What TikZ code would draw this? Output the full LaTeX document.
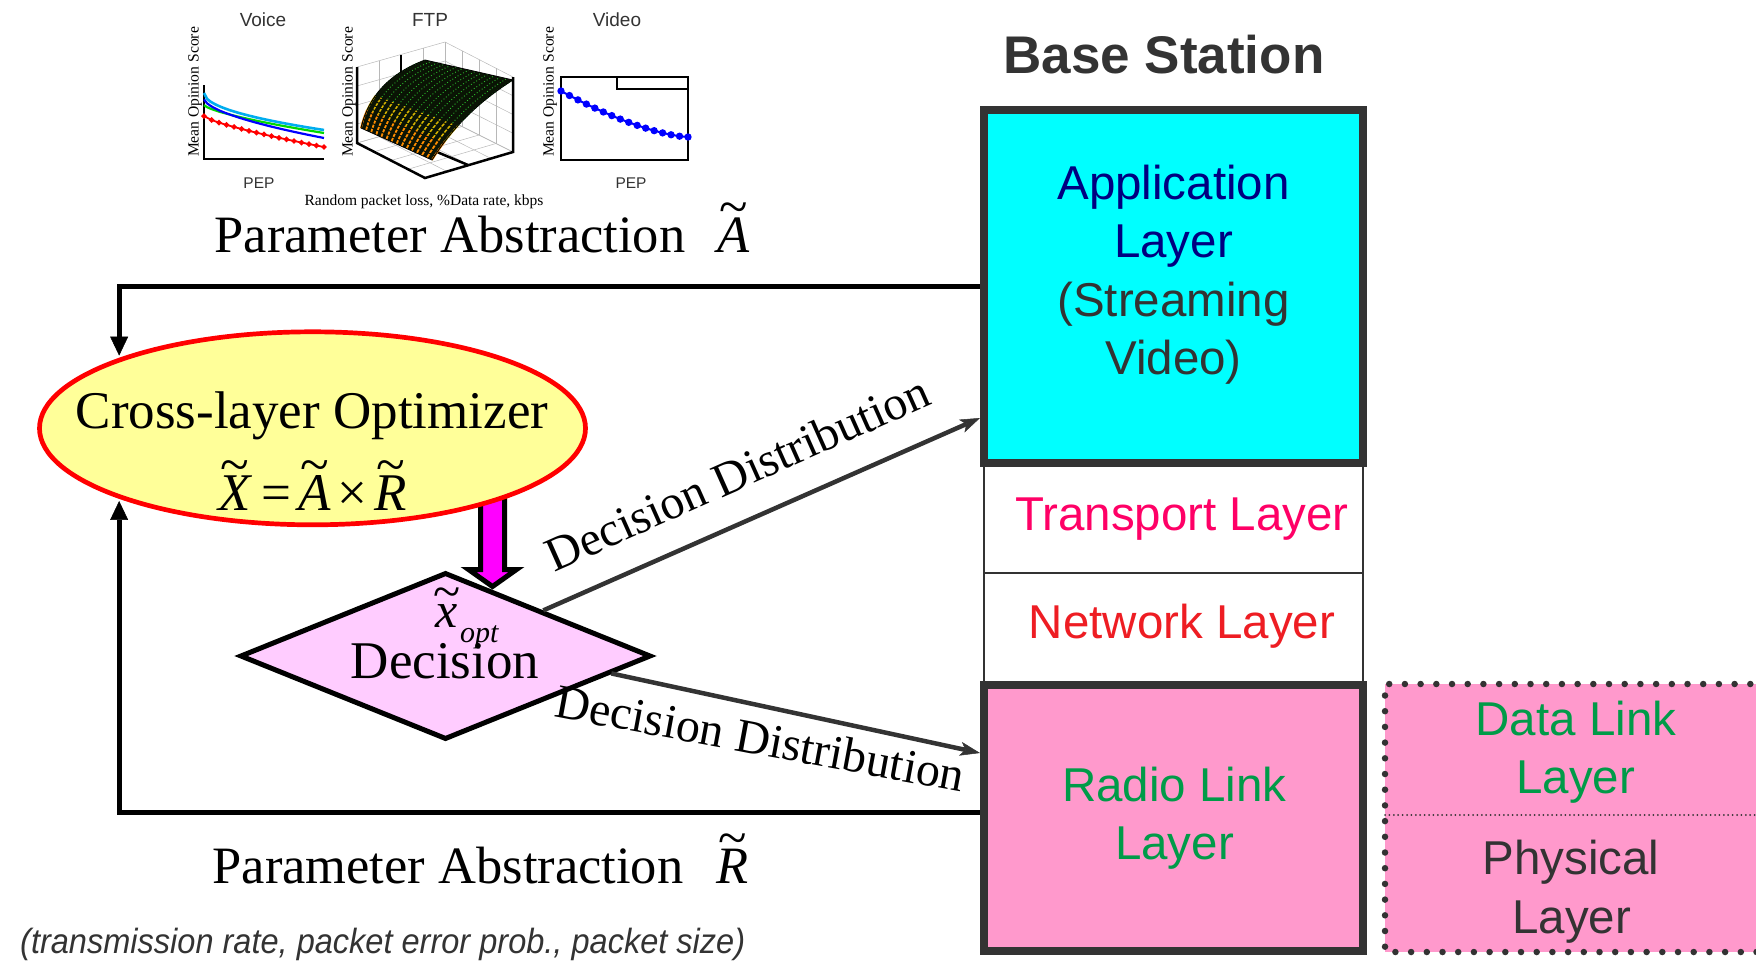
\RequirePackage{fix-cm}
\documentclass[tikz,border=0pt]{standalone}
\usepackage{fontspec}
\setmainfont{Liberation Serif}
\setsansfont{Liberation Sans}
\usepackage{graphicx}
\usetikzlibrary{shapes.geometric,arrows.meta,calc}
\newcommand{\fsz}[1]{\fontsize{#1}{#1}\selectfont}
\newcommand{\tildeit}[2][0.52em]{{\itshape\ooalign{#2\cr\hidewidth\raisebox{#1}{\upshape\char"007E}\hidewidth\cr}}}
\definecolor{appcyan}{HTML}{00FFFF}
\definecolor{navyt}{HTML}{000080}
\definecolor{dgray}{HTML}{333333}
\definecolor{transp}{HTML}{FF0066}
\definecolor{netred}{HTML}{EE1D23}
\definecolor{lgreen}{HTML}{009B48}
\definecolor{pinkf}{HTML}{FF99CC}
\definecolor{ellfill}{HTML}{FFFF99}
\definecolor{decfill}{HTML}{FFCCFF}
\definecolor{mag}{HTML}{FF00FF}
\definecolor{surfdark}{HTML}{0A1405}
\definecolor{ftpgreen}{HTML}{2DB82D}
\definecolor{ftporange}{HTML}{FF8C00}
\definecolor{ftpyellow}{HTML}{D9B400}
\begin{document}
\begin{tikzpicture}[x=1pt,y=-1pt,
  fb/.style={line width=5pt, -{Triangle[length=19pt,width=18pt,line width=0.5pt]}},
  dd/.style={draw=dgray, line width=4.5pt, -{Stealth[length=20pt,width=14pt,inset=5pt,line width=0.5pt]}},
  thickbox/.style={rectangle, draw=dgray, line width=8pt, minimum width=379pt, inner sep=0pt},
  cell/.style={rectangle, draw=dgray, line width=2pt, fill=white, minimum width=379pt, inner sep=0pt},
  ltext/.style={font=\sffamily\fsz{47.5}, anchor=base},
  ser/.style={font=\fsz{53}, anchor=base},
  small/.style={font=\fsz{15.6}},
  ssmall/.style={font=\sffamily\fsz{15.5}, text=dgray, anchor=base},
  stitle/.style={font=\sffamily\fsz{19}, text=dgray, anchor=base},
  axis/.style={line width=2.5pt, black},
  grid3/.style={black!28, line width=0.5pt}
]
\useasboundingbox (0,0) rectangle (1756,964);

% ---------------- small charts ----------------
% Voice
\node[stitle] (vtitle) at (263,26) {Voice};
\node[small, rotate=90] (vmos) at (195,92) {Mean Opinion Score};
\draw[axis] (204,85) -- (204,159) -- (324,159);
\draw[red, line width=1.8pt] plot[domain=0.0005:1, samples=17, mark=*, mark size=1.7pt] ({204+120*\x},{116+31*(\x)^0.75});
\draw[green!85!black, line width=2.2pt] plot[domain=0.0005:1, samples=40] ({204+120*\x},{105+28*(\x)^0.7});
\draw[blue, line width=2.2pt] plot[domain=0.0005:1, samples=40] ({204+120*\x},{99+39*(\x)^0.6});
\draw[cyan, line width=2.6pt] plot[domain=0:1, samples=40] ({204+120*\x},{93+37*sqrt(\x)});
\node[ssmall] (vpep) at (259,188) {PEP};

% FTP
\node[stitle] (ftitle) at (430,26) {FTP};
\node[small, rotate=90] (fmos) at (349,92) {Mean Opinion Score};
\foreach \f in {0,0.25,0.5,0.75,1}{
  \draw[grid3] ($(357,67)!\f!(357,143)$) -- ($(445,42)!\f!(445,118)$);
  \draw[grid3] ($(357,67)!\f!(445,42)$) -- ($(357,143)!\f!(445,118)$);
  \draw[grid3] ($(445,42)!\f!(445,118)$) -- ($(513,77)!\f!(513,152)$);
  \draw[grid3] ($(445,42)!\f!(513,77)$) -- ($(445,118)!\f!(513,152)$);
  \draw[grid3] ($(357,143)!\f!(445,118)$) -- ($(425,178)!\f!(513,152)$);
  \draw[grid3] ($(357,143)!\f!(425,178)$) -- ($(445,118)!\f!(513,152)$);
}
\draw[axis] (357,67) -- (357,143) -- (425,178) -- (513,152) -- (513,77);
\draw[axis] (401,55) -- (401,90);
\draw[axis] (437,152) -- (468,165);
\coordinate (L0) at (361,128); \coordinate (Lc) at (372,80); \coordinate (L1) at (425,60);
\coordinate (R0) at (432,160); \coordinate (Rc) at (462,112); \coordinate (R1) at (513,80);
\coordinate (La) at ($(L0)!0.6667!(Lc)$); \coordinate (Lb) at ($(L1)!0.6667!(Lc)$);
\coordinate (Ra) at ($(R0)!0.6667!(Rc)$); \coordinate (Rb) at ($(R1)!0.6667!(Rc)$);
\fill[surfdark] (L0) .. controls (La) and (Lb) .. (L1) -- (R1) .. controls (Rb) and (Ra) .. (R0) -- cycle;
\foreach \i in {0,...,14}{
  \pgfmathsetmacro{\s}{\i/14}
  \draw[ftpgreen, line width=0.9pt, dash pattern=on 0.9pt off 2.2pt]
    ($(L0)!\s!(R0)$) .. controls ($(La)!\s!(Ra)$) and ($(Lb)!\s!(Rb)$) .. ($(L1)!\s!(R1)$);
}
\begin{scope}
  \clip (345,140) -- (445,185) -- (460.3,147.7) -- (351.6,103.6) -- cycle;
  \foreach \i in {0,...,14}{
    \pgfmathsetmacro{\s}{\i/14}
    \draw[ftporange, line width=1.8pt]
      ($(L0)!\s!(R0)$) .. controls ($(La)!\s!(Ra)$) and ($(Lb)!\s!(Rb)$) .. ($(L1)!\s!(R1)$);
  }
\end{scope}
\begin{scope}
  \clip (351.6,103.6) -- (460.3,147.7) -- (474.3,131.8) -- (358.9,89.6) -- cycle;
  \foreach \i in {0,...,14}{
    \pgfmathsetmacro{\s}{\i/14}
    \draw[ftpyellow, line width=1.5pt]
      ($(L0)!\s!(R0)$) .. controls ($(La)!\s!(Ra)$) and ($(Lb)!\s!(Rb)$) .. ($(L1)!\s!(R1)$);
  }
\end{scope}
\foreach \t in {0.045,0.09,0.135,0.18,0.225,0.27,0.315,0.36}{
  \draw[surfdark, line width=1.1pt]
    ($ {(1-\t)*(1-\t)}*(L0) + {2*\t*(1-\t)}*(Lc) + {\t*\t}*(L1) $) --
    ($ {(1-\t)*(1-\t)}*(R0) + {2*\t*(1-\t)}*(Rc) + {\t*\t}*(R1) $);
}
\draw[black, line width=0.8pt] (L0) .. controls (La) and (Lb) .. (L1) -- (R1) .. controls (Rb) and (Ra) .. (R0) -- cycle;
\node[font=\fsz{15.5}, anchor=base] (ftpx) at (424,205) {Random packet loss, \%Data rate, kbps};

% Video
\node[stitle] (vidtitle) at (617,26.5) {Video};
\node[small, rotate=90] (vidmos) at (550,92) {Mean Opinion Score};
\draw[axis] (561,77) rectangle (688,160);
\draw[axis] (617,77) -- (617,89) -- (688,89);
\draw[blue, line width=2pt] plot[domain=0:1, samples=16, mark=*, mark size=2.6pt] ({561+127*\x},{91+46*(1-(1-\x)*sqrt(1-\x))});
\node[ssmall] (vidpep) at (631,188) {PEP};

% ---------------- parameter abstraction labels ----------------
\node[ser, anchor=base west, font=\fsz{52.5}] (pa1) at (211,252) {Parameter Abstraction};
\node[ser, font=\fsz{52.5}] (atil) at (734,252) {\tildeit{A}};
\node[ser, anchor=base west, font=\fsz{52.5}] (pa2) at (209,883) {Parameter Abstraction};
\node[ser, font=\fsz{52.5}] (rtil) at (733,883) {\tildeit{R}};
\node[font=\sffamily\itshape\fsz{35}, text=dgray, anchor=base west, inner sep=0pt] (params) at (20,953)
  {\resizebox{725pt}{\height}{(transmission rate, packet error prob., packet size)}};

% ---------------- base station stack ----------------
\node[font=\sffamily\bfseries\fsz{53}, text=dgray, anchor=base] (bs) at (1164,73) {Base Station};
\node[cell, minimum height=110pt] (trans) at (1173.5,518) {};
\node[cell, minimum height=112pt] (net) at (1173.5,629) {};
\node[thickbox, fill=appcyan, minimum height=353.5pt] (app) at (1173.5,286.25) {};
\node[thickbox, fill=pinkf, minimum height=266pt] (radio) at (1173.5,818) {};

\node[ltext, text=navyt] (app1) at (1173.5,199) {Application};
\node[ltext, text=navyt] (app2) at (1173.5,257) {Layer};
\node[ltext, text=dgray] (app3) at (1173.5,316) {(Streaming};
\node[ltext, text=dgray] (app4) at (1173.5,374) {Video)};
\node[ltext, text=transp] (trtxt) at (1182,530) {Transport Layer};
\node[ltext, text=netred] (nettxt) at (1182,638) {Network Layer};
\node[ltext, text=lgreen] (rad1) at (1174.5,801) {Radio Link};
\node[ltext, text=lgreen] (rad2) at (1174.5,859) {Layer};

% data link / physical (dotted)
\fill[pinkf] (1385,684) rectangle (1756,952);
\draw[dgray, line width=6.5pt, line cap=round, dash pattern=on 0pt off 15.7pt] (1766,684) -- (1385,684) -- (1385,952) -- (1766,952);
\draw[dgray, line width=2pt, line cap=round, dash pattern=on 0pt off 4.4pt] (1385,815) -- (1756,815);
\node[ltext, text=lgreen] (dl1) at (1576,735) {Data Link};
\node[ltext, text=lgreen] (dl2) at (1575.7,793) {Layer};
\node[ltext, text=dgray] (ph1) at (1571,874) {Physical};
\node[ltext, text=dgray] (ph2) at (1571.7,933) {Layer};

% ---------------- decision diamond, arrow, optimizer ----------------
\node[diamond, draw=black, line width=5pt, fill=decfill, minimum width=411pt, minimum height=167pt, inner sep=0pt] (dec) at (445.5,656) {};
\coordinate (mtip) at (492.5,586.5);
\draw[line width=5pt, fill=mag, line join=miter] (mtip) -- ++(24,-17) -- ++(-12,0) -- ++(0,-75) -- ++(-24,0) -- ++(0,75) -- ++(-12,0) -- cycle;
\node[ellipse, draw=red, line width=4.7pt, fill=ellfill, minimum width=546pt, minimum height=193pt, inner sep=0pt] (opt) at (312.5,428.3) {};

\node[ser] (optt) at (312,428) {Cross-layer Optimizer};
\node[ser] (opteq) at (313,510) {\tildeit{X}\hspace{0.2em}=\hspace{0.13em}\tildeit{A}\hspace{0.13em}×\hspace{0.13em}\tildeit{R}};
\node[font=\fsz{50}, anchor=base] (xo) at (447,627) {\tildeit[0.38em]{x}};
\node[font=\itshape\fsz{30}, anchor=base west, inner sep=0pt] (xosub) at (460,642) {opt};
\node[ser] (dect) at (445,678) {Decision};

% ---------------- connectors ----------------
\draw[fb, shorten >=2.3pt] (app.west) -| (opt.160.4);
\draw[fb, shorten >=2.3pt] ([yshift=6pt]radio.west) -| (opt.200.5);
\draw[dd] (dec.25) -- ([yshift=49pt]app.south west);
\draw[dd] (dec.-6) -- ([yshift=-72pt]radio.north west);
\node[font=\fsz{48}, rotate=24, anchor=base] (ddl1) at (744,488) {Decision Distribution};
\node[font=\fsz{48}, rotate=-10.5, anchor=base] (ddl2) at (757.5,754.5) {Decision Distribution};
\end{tikzpicture}
\end{document}
